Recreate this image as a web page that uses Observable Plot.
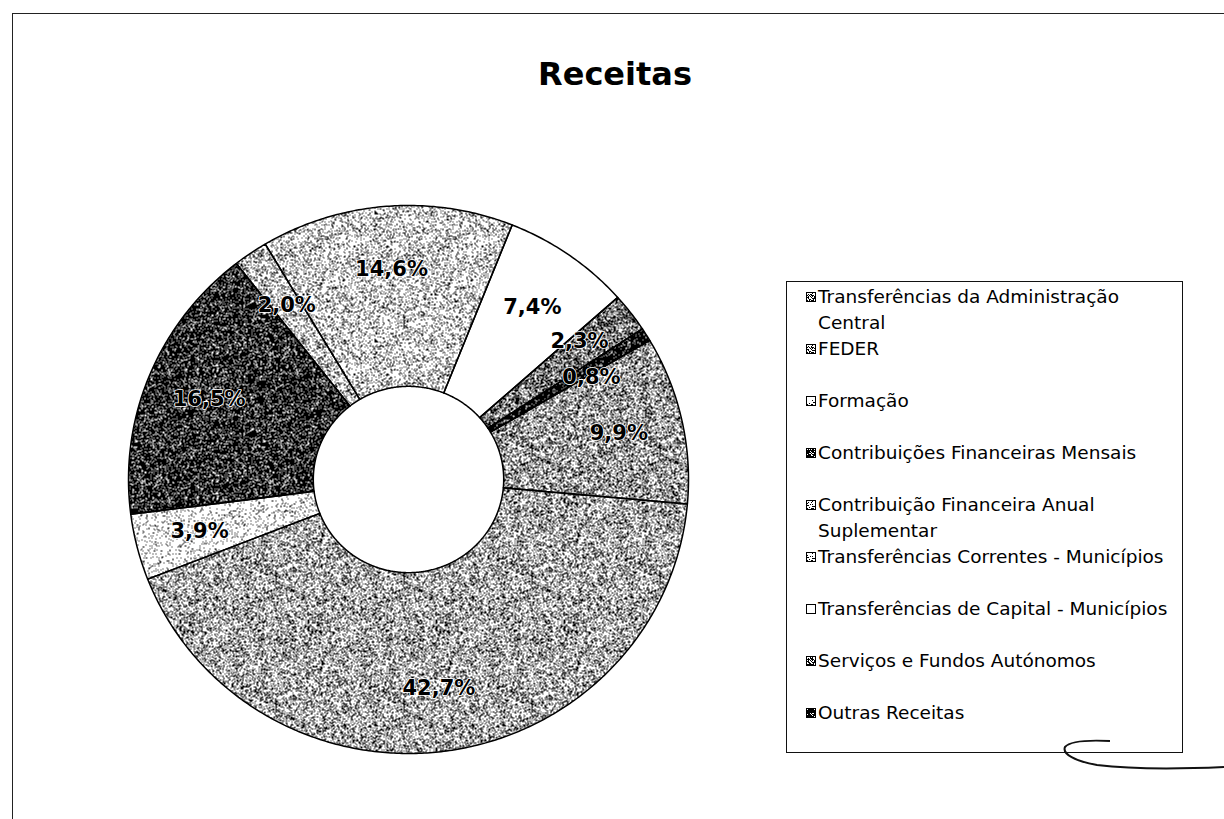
<!DOCTYPE html>
<html>
<head>
<meta charset="utf-8">
<script src="https://cdn.jsdelivr.net/npm/d3@7"></script>
<script src="https://cdn.jsdelivr.net/npm/@observablehq/plot@0.6"></script>
<style>
  html, body { margin: 0; padding: 0; background: #fff; }
  #page { position: relative; width: 1224px; height: 819px; overflow: hidden; font-family: "DejaVu Sans", Verdana, sans-serif; color: #000; }
  #frame { position: absolute; left: 12px; top: 13px; width: 1400px; height: 1000px; border-top: 1.5px solid #222; border-left: 1.5px solid #222; }
  #title { position: absolute; left: 0; width: 1230px; top: 54px; text-align: center; font-weight: bold; font-size: 32px; line-height: 40px; }
  #chart { position: absolute; left: 108px; top: 179px; }
  #legend { position: absolute; left: 786px; top: 281px; width: 397px; height: 472px; border: 1px solid #111; box-sizing: border-box; }
  .item { position: absolute; left: 19px; }
  .mark { position: absolute; left: 0; top: 8px; width: 10px; height: 10px; border: 1px solid #000; box-sizing: border-box; image-rendering: pixelated; }
  .txt { position: absolute; left: 12px; top: 0; width: 366px; font-size: 18.5px; line-height: 26px; white-space: normal; }
  #scribble { position: absolute; left: 1040px; top: 730px; }
</style>
</head>
<body>
<div id="page">
  <div id="frame"></div>
  <div id="title">Receitas</div>
  <div id="chart"></div>
  <div id="legend"></div>
  <svg id="scribble" width="184" height="50" viewBox="1040 730 184 50">
    <path d="M1110,741 C1090,740 1070,741 1065,747 C1062,754 1075,761 1097,765 C1130,769 1180,769 1224,767"
      fill="none" stroke="#111" stroke-width="2"/>
  </svg>
</div>
<script>
// ---- data ----
const categories = [
  "Transferências da Administração Central",
  "FEDER",
  "Formação",
  "Contribuições Financeiras Mensais",
  "Contribuição Financeira Anual Suplementar",
  "Transferências Correntes - Municípios",
  "Transferências de Capital - Municípios",
  "Serviços e Fundos Autónomos",
  "Outras Receitas"
];
const shares = [9.9, 42.7, 3.9, 16.5, 2.0, 14.6, 7.4, 2.3, 0.8];
const grays = ["#9c9c9c", "#a9a9a9", "#e2e2e2", "#3a3a3a", "#bcbcbc", "#c9c9c9", "#ffffff", "#7a7a7a", "#222222"];

// ---- print-like dither texture (deterministic hash threshold) ----
function hash01(x, y) {
  let h = (Math.imul(y, 4099) + x) | 0;
  h ^= h >>> 16; h = Math.imul(h, 0x85ebca6b);
  h ^= h >>> 13; h = Math.imul(h, 0xc2b2ae35);
  h ^= h >>> 16;
  return (h >>> 0) / 4294967296;
}
const TILE = 128;
function ditherURL(hex) {
  const level = d3.rgb(hex).r / 255;
  const cv = document.createElement("canvas");
  cv.width = cv.height = TILE;
  const ctx = cv.getContext("2d");
  const img = ctx.createImageData(TILE, TILE);
  for (let y = 0; y < TILE; y++) for (let x = 0; x < TILE; x++) {
    const v = level > hash01(x, y) ? 255 : 0;
    const o = 4 * (y * TILE + x);
    img.data[o] = img.data[o + 1] = img.data[o + 2] = v;
    img.data[o + 3] = 255;
  }
  ctx.putImageData(img, 0, 0);
  return cv.toDataURL();
}
const textures = grays.map(g => ditherURL(g));

// ---- geometry (unit circle; the x/y scales map it to the ring) ----
const startDeg = 59.5;
const holeFrac = 0.34, labelFrac = 0.77;
const a0 = startDeg * Math.PI / 180;
const arcs = d3.pie().sort(null).value(d => d).startAngle(a0).endAngle(a0 + 2 * Math.PI)(shares);

const pts = [];
arcs.forEach((arc, i) => {
  const cat = categories[i];
  const n = Math.max(2, Math.ceil((arc.endAngle - arc.startAngle) / 0.01));
  for (let k = 0; k <= n; k++) {
    const a = arc.startAngle + (arc.endAngle - arc.startAngle) * k / n;
    pts.push({cat, x: Math.sin(a), y: Math.cos(a)});
  }
  for (let k = n; k >= 0; k--) {
    const a = arc.startAngle + (arc.endAngle - arc.startAngle) * k / n;
    pts.push({cat, x: holeFrac * Math.sin(a), y: holeFrac * Math.cos(a)});
  }
});

const W = 600, H = 600, RX = 280, RY = 274;
const fmt = v => v.toFixed(1).replace(".", ",") + "%";
const labels = arcs.map((arc, i) => {
  const m = (arc.startAngle + arc.endAngle) / 2;
  return {cat: categories[i], text: fmt(shares[i]), x: labelFrac * Math.sin(m), y: labelFrac * Math.cos(m)};
});
// simple collision resolution for neighbouring labels (in pixel units)
for (let iter = 0; iter < 5; iter++) {
  for (let i = 0; i < labels.length; i++) {
    for (let j = i + 1; j < labels.length; j++) {
      const A = labels[i], B = labels[j];
      if (Math.abs(A.x - B.x) * RX < 60 && Math.abs(A.y - B.y) * RY < 34) {
        const mid = (A.y + B.y) / 2;
        const up = A.y >= B.y ? A : B, dn = up === A ? B : A;
        up.y = mid + 18 / RY; dn.y = mid - 18 / RY;
      }
    }
  }
}

const textureMarks = categories.map((c, i) =>
  Plot.line(pts.filter(d => d.cat === c), {x: "x", y: "y", fill: `url(#dith${i})`, stroke: "none", curve: "linear-closed"})
);

const chart = Plot.plot({
  width: W, height: H, margin: 0,
  x: {domain: [-1, 1], range: [W / 2 - RX, W / 2 + RX], axis: null},
  y: {domain: [-1, 1], range: [H / 2 + RY, H / 2 - RY], axis: null},
  color: {domain: categories, range: grays},
  style: {background: "transparent", overflow: "visible"},
  marks: [
    Plot.line(pts, {x: "x", y: "y", z: "cat", fill: "cat", stroke: "none", curve: "linear-closed"}),
    ...textureMarks,
    Plot.line(pts, {x: "x", y: "y", z: "cat", fill: "none", stroke: "#000", strokeWidth: 1.5, curve: "linear-closed"}),
    Plot.text(labels, {x: "x", y: "y", text: "text", fontSize: 21, fontWeight: "bold",
      fontFamily: "DejaVu Sans, Verdana, sans-serif", fill: "#000", stroke: "#fff", strokeWidth: 1.6, paintOrder: "stroke"})
  ]
});
// pattern definitions inside the plot's own svg
const svgNS = "http://www.w3.org/2000/svg";
const defs = document.createElementNS(svgNS, "defs");
textures.forEach((url, i) => {
  const p = document.createElementNS(svgNS, "pattern");
  p.setAttribute("id", `dith${i}`);
  p.setAttribute("patternUnits", "userSpaceOnUse");
  p.setAttribute("width", TILE);
  p.setAttribute("height", TILE);
  const im = document.createElementNS(svgNS, "image");
  im.setAttribute("href", url);
  im.setAttribute("width", TILE);
  im.setAttribute("height", TILE);
  im.setAttribute("style", "image-rendering:pixelated");
  p.appendChild(im);
  defs.appendChild(p);
});
chart.insertBefore(defs, chart.firstChild);
document.getElementById("chart").appendChild(chart);

// ---- legend ----
const legend = document.getElementById("legend");
categories.forEach((c, i) => {
  const item = document.createElement("div");
  item.className = "item";
  item.style.top = (2 + i * 52) + "px";
  const mk = document.createElement("div");
  mk.className = "mark";
  mk.style.background = `${grays[i]} url(${textures[i]})`;
  const tx = document.createElement("div");
  tx.className = "txt";
  tx.textContent = c;
  item.appendChild(mk);
  item.appendChild(tx);
  legend.appendChild(item);
});
</script>
</body>
</html>
